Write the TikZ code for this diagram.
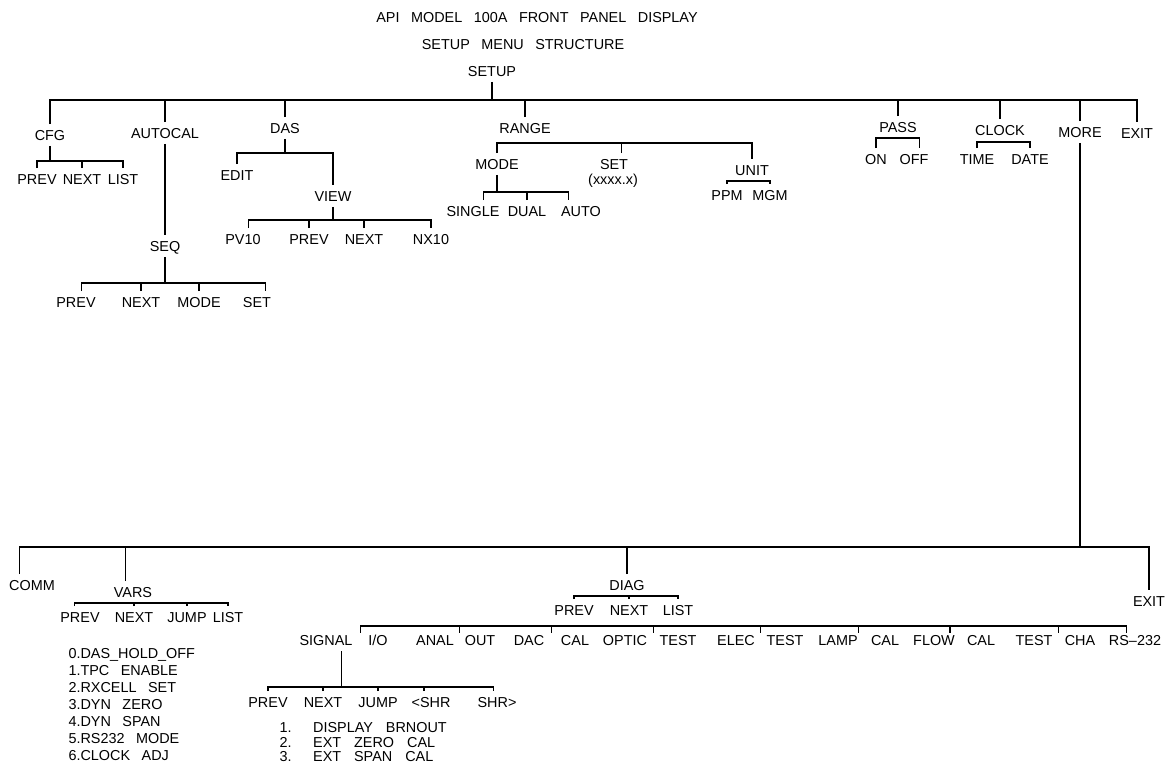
\documentclass[tikz,border=0pt]{standalone}
\usepackage{fontspec}
\setmainfont{Liberation Sans}
\usetikzlibrary{calc}
\frenchspacing

\tikzset{
  lbl/.style={inner sep=3pt, text height=5.9pt, text depth=0pt},
  lst/.style={inner sep=0pt, anchor=north west, align=left},
}

\begin{document}
\begin{tikzpicture}[x=0.02cm, y=-0.02cm, line width=0.6pt,
  font={\fontsize{8.2}{9.7}\selectfont\spaceskip=.8em\relax}]
  \useasboundingbox (0,0) rectangle (1172,769);

  % タイトル
  \node[lbl] (title) at (537,17) {API MODEL 100A FRONT PANEL DISPLAY};
  \node[lbl] (subtitle) at (523,44) {SETUP MENU STRUCTURE};
  \node[lbl] (setup) at (492,71) {SETUP};
  \coordinate (topbar) at (0,100);
  \draw (setup.south) -- (setup.south |- topbar);

  % 上段：SETUP の項目
  \node[lbl] (cfg) at (50,135) {CFG};
  \node[lbl] (autocal) at (165,133) {AUTOCAL};
  \node[lbl] (das) at (285,128) {DAS};
  \node[lbl] (range) at (525,128) {RANGE};
  \node[lbl] (pass) at (898,127) {PASS};
  \node[lbl] (clock) at (1000,130) {CLOCK};
  \node[lbl] (more) at (1080,132) {MORE};
  \node[lbl] (exit) at (1137,133) {EXIT};
  \draw (cfg.north) |- (exit.north |- topbar) -- (exit.north);
  \draw (autocal.north) -- (autocal.north |- topbar);
  \draw (das.north) -- (das.north |- topbar);
  \draw (range.north) -- (range.north |- topbar);
  \draw (pass.north) -- (pass.north |- topbar);
  \draw (clock.north) -- (clock.north |- topbar);
  \draw (more.north) -- (more.north |- topbar);

  % CFG
  \coordinate (cfgbar) at (0,161);
  \node[lbl] (cfgprev) at (37,179) {PREV};
  \node[lbl] (cfgnext) at (82,179) {NEXT};
  \node[lbl] (cfglist) at (123,179) {LIST};
  \draw (cfg.south) -- (cfg.south |- cfgbar);
  \draw (cfgprev.north) |- (cfglist.north |- cfgbar) -- (cfglist.north);
  \draw (cfgnext.north) -- (cfgnext.north |- cfgbar);

  % AUTOCAL -> SEQ
  \node[lbl] (seq) at (165,246) {SEQ};
  \draw (autocal.south) -- (seq.north);
  \coordinate (seqbar) at (0,283);
  \node[lbl] (seqprev) at (76,302) {PREV};
  \node[lbl] (seqnext) at (141,302) {NEXT};
  \node[lbl] (seqmode) at (199,302) {MODE};
  \node[lbl] (seqset) at (257,302) {SET};
  \draw (seq.south) -- (seq.south |- seqbar);
  \draw ([xshift=3pt]seqprev.north) |- ([xshift=5pt]seqset.north |- seqbar) -- ([xshift=5pt]seqset.north);
  \draw (seqnext.north) -- (seqnext.north |- seqbar);
  \draw (seqmode.north) -- (seqmode.north |- seqbar);

  % DAS
  \coordinate (dasbar) at (0,153);
  \node[lbl] (edit) at (237,175) {EDIT};
  \node[lbl] (view) at (333,196) {VIEW};
  \draw (das.south) -- (das.south |- dasbar);
  \draw (edit.north) |- (view.north |- dasbar) -- (view.north);
  \coordinate (viewbar) at (0,220);
  \node[lbl] (pv10) at (243,239) {PV10};
  \node[lbl] (viewprev) at (309,239) {PREV};
  \node[lbl] (viewnext) at (364,239) {NEXT};
  \node[lbl] (nx10) at (431,239) {NX10};
  \draw (view.south) -- (view.south |- viewbar);
  \draw ([xshift=3pt]pv10.north) |- (nx10.north |- viewbar) -- (nx10.north);
  \draw (viewprev.north) -- (viewprev.north |- viewbar);
  \draw (viewnext.north) -- (viewnext.north |- viewbar);

  % RANGE
  \coordinate (rangebar) at (0,143);
  \node[lbl] (mode) at (497,164) {MODE};
  \node[lbl] (set) at (614,164) {SET};
  \node[lbl] (setval) at (613,179) {(xxxx.x)};
  \node[lbl] (unit) at (752,170) {UNIT};
  \draw (mode.north) |- (unit.north |- rangebar) -- (unit.north);
  \draw ([xshift=4pt]set.north) -- ([xshift=4pt]set.north |- rangebar);
  \coordinate (modebar) at (0,192);
  \node[lbl] (single) at (473,211) {SINGLE};
  \node[lbl] (dual) at (527,211) {DUAL};
  \node[lbl] (modeauto) at (581,211) {AUTO};
  \draw (mode.south) -- (mode.south |- modebar);
  \draw ([xshift=6pt]single.north) |- ([xshift=-7pt]modeauto.north |- modebar) -- ([xshift=-7pt]modeauto.north);
  \draw (dual.north) -- (dual.north |- modebar);
  \coordinate (unitbar) at (0,181);
  \node[lbl] (ppm) at (727,195) {PPM};
  \node[lbl] (mgm) at (770,195) {MGM};
  \draw (ppm.north) |- (mgm.north |- unitbar) -- (mgm.north);

  % PASS, CLOCK
  \coordinate (passbar) at (0,138);
  \node[lbl] (passon) at (876,159) {ON};
  \node[lbl] (passoff) at (914,159) {OFF};
  \draw (passon.north) |- ([xshift=3pt]passoff.north |- passbar) -- ([xshift=3pt]passoff.north);
  \coordinate (clockbar) at (0,142);
  \node[lbl] (time) at (977,159) {TIME};
  \node[lbl] (date) at (1030,159) {DATE};
  \draw (clock.south) -- (clock.south |- clockbar);
  \draw (time.north) |- (date.north |- clockbar) -- (date.north);

  % MORE の下
  \coordinate (morebar) at (0,547);
  \draw (more.south) -- (more.south |- morebar);
  \node[lbl] (comm) at (32,585) {COMM};
  \node[lbl] (vars) at (133,592) {VARS};
  \node[lbl] (diag) at (627,585) {DIAG};
  \node[lbl] (exit2) at (1149,601) {EXIT};
  \draw ([xshift=-7pt]comm.north) |- (exit2.north |- morebar) -- (exit2.north);
  \draw ([xshift=-4.5pt]vars.north) -- ([xshift=-4.5pt]vars.north |- morebar);
  \draw (diag.north) -- (diag.north |- morebar);

  % VARS
  \coordinate (varsbar) at (0,603);
  \node[lbl] (varsprev) at (80,617) {PREV};
  \node[lbl] (varsnext) at (134,617) {NEXT};
  \node[lbl] (varsjump) at (187,617) {JUMP};
  \node[lbl] (varslist) at (228,617) {LIST};
  \draw ([xshift=-3pt]varsprev.north) |- (varslist.north |- varsbar) -- (varslist.north);
  \draw (varsnext.north) -- (varsnext.north |- varsbar);
  \draw (varsjump.north) -- (varsjump.north |- varsbar);
  \node[lst] (varitems) at (68,648) {0.DAS\_HOLD\_OFF\\1.TPC ENABLE\\2.RXCELL SET\\3.DYN ZERO\\4.DYN SPAN\\5.RS232 MODE\\6.CLOCK ADJ};

  % DIAG
  \coordinate (diagbar) at (0,596);
  \node[lbl] (diagprev) at (574,610) {PREV};
  \node[lbl] (diagnext) at (629,610) {NEXT};
  \node[lbl] (diaglist) at (678,610) {LIST};
  \draw (diagprev.north) |- (diaglist.north |- diagbar) -- (diaglist.north);
  \draw (diagnext.north) -- (diagnext.north |- diagbar);

  \node[lbl] (signal) at (326,640) {SIGNAL};
  \node[lbl] (io) at (378,640) {I/O};
  \node[lbl] (anal) at (435,640) {ANAL};
  \node[lbl] (out) at (480,640) {OUT};
  \node[lbl] (dac) at (529,640) {DAC};
  \node[lbl] (daccal) at (575,640) {CAL};
  \node[lbl] (optic) at (625,640) {OPTIC};
  \node[lbl] (optest) at (678,640) {TEST};
  \node[lbl] (elec) at (736,640) {ELEC};
  \node[lbl] (eltest) at (785,640) {TEST};
  \node[lbl] (lamp) at (838,640) {LAMP};
  \node[lbl] (lampcal) at (885,640) {CAL};
  \node[lbl] (flow) at (934,640) {FLOW};
  \node[lbl] (flowcal) at (981,640) {CAL};
  \node[lbl] (test) at (1034,640) {TEST};
  \node[lbl] (cha) at (1080,640) {CHA};
  \node[lbl] (rs) at (1135,640) {RS--232};
  \coordinate (itembar) at (0,626);
  \coordinate (tk1) at ($(signal.east)!.5!(io.west)$);
  \coordinate (tk2) at ($(anal.east)!.5!(out.west)$);
  \coordinate (tk3) at ($(dac.east)!.3!(daccal.west)$);
  \coordinate (tk4) at ($(optic.east)!.5!(optest.west)$);
  \coordinate (tk5) at ($(elec.east)!.5!(eltest.west)$);
  \coordinate (tk6) at ($(lamp.center)!.8!(lamp.east)$);
  \coordinate (tk7) at ($(flow.center)!.6!(flow.east)$);
  \coordinate (tk8) at ($(test.east)!.5!(cha.west)$);
  \coordinate (tk9) at ([xshift=-5pt]rs.center);
  \draw (tk1 |- itembar) -- ++(0,7);
  \draw (tk1 |- itembar) -- (tk9 |- itembar) -- ++(0,7);
  \draw (tk2 |- itembar) -- ++(0,7);
  \draw (tk3 |- itembar) -- ++(0,7);
  \draw (tk4 |- itembar) -- ++(0,7);
  \draw (tk5 |- itembar) -- ++(0,7);
  \draw (tk6 |- itembar) -- ++(0,7);
  \draw (tk7 |- itembar) -- ++(0,7);
  \draw (tk8 |- itembar) -- ++(0,7);

  % SIGNAL I/O
  \coordinate (sigbar) at (0,687);
  \node[lbl] (sigprev) at (268,702) {PREV};
  \node[lbl] (signext) at (323,702) {NEXT};
  \node[lbl] (sigjump) at (378,702) {JUMP};
  \node[lbl] (sigleft) at (431,702) {<SHR};
  \node[lbl] (sigright) at (497,702) {SHR>};
  \draw ([xshift=9pt]signal.south) -- ([xshift=9pt]signal.south |- sigbar);
  \draw (sigprev.north) |- ([xshift=-2pt]sigright.north |- sigbar) -- ([xshift=-2pt]sigright.north);
  \draw (signext.north) -- (signext.north |- sigbar);
  \draw (sigjump.north) -- (sigjump.north |- sigbar);
  \draw ([xshift=-4pt]sigleft.north) -- ([xshift=-4pt]sigleft.north |- sigbar);
  \node[lst, font={\fontsize{8.2}{8.3}\selectfont\spaceskip=.9em\relax}] (sigitems) at (279,722)
    {1.\hspace{.6em} DISPLAY BRNOUT\\2.\hspace{.6em} EXT ZERO CAL\\3.\hspace{.6em} EXT SPAN CAL};
\end{tikzpicture}
\end{document}
